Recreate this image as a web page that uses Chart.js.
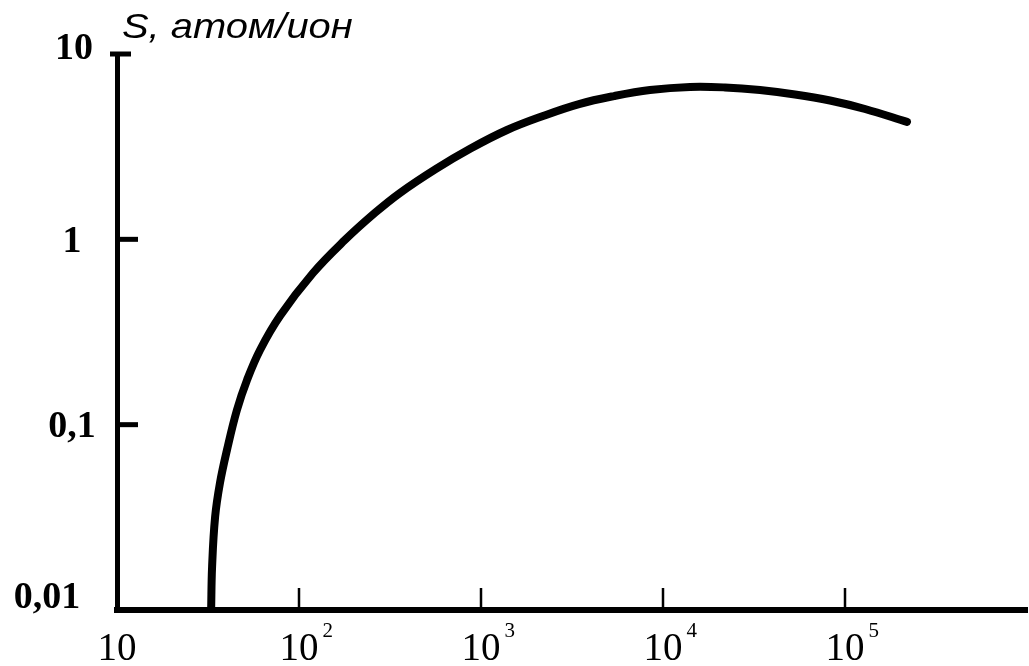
<!DOCTYPE html>
<html>
<head>
<meta charset="utf-8">
<script src="https://cdn.jsdelivr.net/npm/chart.js@4.4.1/dist/chart.umd.min.js"></script>
<style>
  html, body { margin: 0; padding: 0; background: #fff; }
  #wrap { width: 1029px; height: 666px; }
</style>
</head>
<body>
<div id="wrap"><canvas id="yieldChart" width="1029" height="666"></canvas></div>
<script>
// ion energy, eV
const energy = [32.9, 33.3, 34.6, 36.8, 40.2, 45.6, 51.8, 61.1, 78.6, 119.4, 178.9, 261.6, 358.8, 566, 881,
  1390, 2191, 3455, 5381, 8483, 14075, 21914, 34120, 53140, 82720, 128800, 219100];
// sputtering yield S, atoms per ion
const yieldS = [0.01, 0.0171, 0.0318, 0.0485, 0.073, 0.12, 0.174, 0.253, 0.386, 0.658, 0.992, 1.39, 1.78, 2.40, 3.10,
  3.89, 4.63, 5.37, 5.93, 6.39, 6.64, 6.60, 6.39, 6.05, 5.61, 5.05, 4.30];

const xTicks = [10, 100, 1000, 10000, 100000];
const xTickPowers = ['', '2', '3', '4', '5'];
const yTicks = [0.01, 0.1, 1, 10];
const yTickLabels = ['0,01', '0,1', '1', '10'];
const yTitle = 'S, атом/ион';

// ticks point inwards and labels are set by hand, so the axes get drawn here
const axisDecor = {
  id: 'axisDecor',
  afterDraw(chart) {
    const { ctx, scales: { x, y } } = chart;
    const left = x.getPixelForValue(xTicks[0]);
    const bottom = y.getPixelForValue(yTicks[0]);
    ctx.save();
    ctx.strokeStyle = '#000';
    ctx.fillStyle = '#000';
    ctx.lineCap = 'butt';

    // energy axis ticks
    ctx.lineWidth = 2.5;
    xTicks.slice(1).forEach(v => {
      const px = x.getPixelForValue(v);
      ctx.beginPath();
      ctx.moveTo(px, bottom - 2);
      ctx.lineTo(px, bottom - 22);
      ctx.stroke();
    });

    // yield axis ticks, the top one is a short cap
    ctx.lineWidth = 5;
    yTicks.slice(1).forEach(v => {
      const py = y.getPixelForValue(v);
      const top = v === yTicks[yTicks.length - 1];
      ctx.beginPath();
      ctx.moveTo(top ? left - 7 : left, py);
      ctx.lineTo(top ? left + 14 : left + 21, py);
      ctx.stroke();
    });

    // yield labels
    ctx.font = 'bold 38px "Liberation Serif", "Times New Roman", serif';
    ctx.textAlign = 'center';
    ctx.textBaseline = 'alphabetic';
    yTicks.forEach((v, i) => {
      let cx = 72;
      let cy = y.getPixelForValue(v);
      if (i === 0) { cx = 47; cy -= 15; }
      if (i === yTicks.length - 1) { cx = 74; cy -= 8; }
      ctx.fillText(yTickLabels[i], cx, cy + 12.5);
    });

    // energy labels: 10 with a raised power
    xTicks.forEach((v, i) => {
      const px = x.getPixelForValue(v);
      ctx.font = '39px "Liberation Serif", "Times New Roman", serif';
      ctx.textAlign = 'center';
      ctx.fillText('10', px, 660);
      if (xTickPowers[i]) {
        const w = ctx.measureText('10').width;
        ctx.font = '21px "Liberation Serif", "Times New Roman", serif';
        ctx.textAlign = 'left';
        ctx.fillText(xTickPowers[i], px + w / 2 + 4, 637);
      }
    });

    // axis title
    ctx.font = 'italic 35px "Liberation Sans", Arial, sans-serif';
    ctx.textAlign = 'left';
    ctx.translate(122, 38);
    ctx.scale(1.14, 1);
    ctx.fillText(yTitle, 0, 0);
    ctx.restore();
  }
};

const ctx = document.getElementById('yieldChart').getContext('2d');
new Chart(ctx, {
  type: 'line',
  data: {
    datasets: [{
      data: energy.map((e, i) => ({ x: e, y: yieldS[i] })),
      borderColor: '#000',
      borderWidth: 8,
      pointRadius: 0,
      fill: false,
      tension: 0.4,
      borderCapStyle: 'round'
    }]
  },
  options: {
    responsive: false,
    animation: false,
    devicePixelRatio: 1,
    layout: { padding: { top: 54, right: 2, left: 0, bottom: 0 } },
    plugins: { legend: { display: false }, tooltip: { enabled: false } },
    scales: {
      x: {
        type: 'logarithmic', min: 10, max: 1000000,
        ticks: { display: false },
        grid: { display: false, drawTicks: false },
        border: { display: true, color: '#000', width: 6 },
        afterFit(s) { s.height = 56; }
      },
      y: {
        type: 'logarithmic', min: 0.01, max: 10,
        ticks: { display: false },
        grid: { display: false, drawTicks: false },
        border: { display: true, color: '#000', width: 5 },
        afterFit(s) { s.width = 117; }
      }
    }
  },
  plugins: [axisDecor]
});
</script>
</body>
</html>
